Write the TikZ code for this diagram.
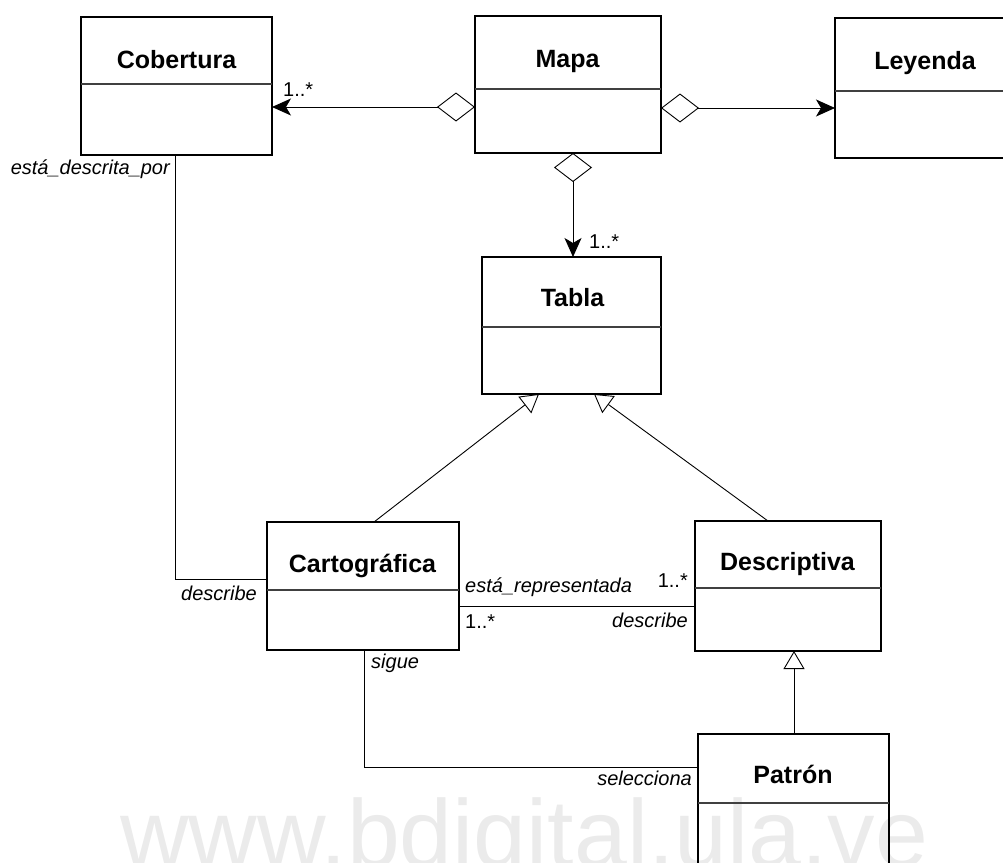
\documentclass[tikz,border=0pt]{standalone}
\usepackage{fontspec}
\setmainfont{Liberation Sans}
\usetikzlibrary{arrows.meta}
\begin{document}
\begin{tikzpicture}[x=1pt,y=-1pt,
  classbox/.style={draw, line width=1.8pt, inner sep=0pt, outer sep=0pt},
  sepline/.style={line width=1.4pt, black!75},
  title/.style={font=\fontsize{25}{30}\selectfont\bfseries, anchor=base, inner sep=0pt},
  lbl/.style={font=\fontsize{20}{24}\selectfont\itshape, inner sep=0pt},
  mult/.style={font=\fontsize{20}{24}\selectfont, inner sep=0pt},
  conn/.style={line width=0.9pt},
  agg/.style={conn, {Diamond[open,length=38pt,width=29pt,line width=0.9pt]}-{Stealth[length=19pt,width=17pt,inset=5pt]}},
  aggv/.style={conn, {Diamond[open,length=29pt,width=38pt,line width=0.9pt]}-{Stealth[length=19pt,width=17pt,inset=5pt]}},
  gen/.style={conn, -{Triangle[open,length=18pt,width=21pt,line width=0.9pt]}},
  wm/.style={font=\fontsize{95}{100}\selectfont, text=black!8, inner sep=0pt}
]
\path[use as bounding box] (0,0) rectangle (1003,862);
\clip (0,0) rectangle (1003,862);

% watermark
\node[wm, anchor=base west] (wmark) at (120,866) {www.bdigital.ula.ve};

% class boxes
\node[classbox, minimum width=191pt, minimum height=138pt] (cob) at (176.5,86) {};
\node[classbox, minimum width=186pt, minimum height=137pt] (mapa) at (568,84.5) {};
\node[classbox, minimum width=180pt, minimum height=140pt] (ley) at (925,88) {};
\node[classbox, minimum width=179pt, minimum height=137pt] (tabla) at (571.5,325.5) {};
\node[classbox, minimum width=192pt, minimum height=128pt] (cart) at (363,586) {};
\node[classbox, minimum width=186pt, minimum height=130pt] (desc) at (788,586) {};
\node[classbox, minimum width=191pt, minimum height=200pt] (pat) at (793.5,834) {};

% separators
\draw[sepline] (cob.west |- 0,84) -- (cob.east |- 0,84);
\draw[sepline] (mapa.west |- 0,89) -- (mapa.east |- 0,89);
\draw[sepline] (ley.west |- 0,91) -- (ley.east |- 0,91);
\draw[sepline] (tabla.west |- 0,327) -- (tabla.east |- 0,327);
\draw[sepline] (cart.west |- 0,590) -- (cart.east |- 0,590);
\draw[sepline] (desc.west |- 0,588) -- (desc.east |- 0,588);
\draw[sepline] (pat.west |- 0,803) -- (pat.east |- 0,803);

% titles
\node[title] (cobt) at (176.5,68) {Cobertura};
\node[title] (mapat) at (567.5,67) {Mapa};
\node[title] (leyt) at (925,69) {Leyenda};
\node[title] (tablat) at (572.5,306) {Tabla};
\node[title] (cartt) at (362.5,572) {Cartográfica};
\node[title] (desct) at (787.5,570) {Descriptiva};
\node[title] (patt) at (793,783) {Patrón};

% aggregations
\draw[agg] (mapa.west |- 0,107) -- (cob.east |- 0,107);
\draw[agg] (mapa.east |- 0,108) -- (ley.west |- 0,108);
\draw[aggv] (mapa.south -| 573,0) -- (tabla.north -| 573,0);
\node[mult, anchor=base west] (m1) at (283,96) {1..*};
\node[mult, anchor=base west] (m2) at (589,248) {1..*};

% generalizations
\draw[gen] (cart.north -| 374,0) -- (tabla.south -| 539,0);
\draw[gen] (desc.north -| 768,0) -- (tabla.south -| 594,0);
\draw[gen] (pat.north -| 794,0) -- (desc.south -| 794,0);

% associations
\draw[conn] (cob.south -| 175,0) |- (cart.west |- 0,579);
\node[lbl, anchor=base east] (l1) at (170,174) {está\_descrita\_por};
\node[lbl, anchor=base east] (l2) at (257,600) {describe};

\draw[conn] (cart.east |- 0,606) -- (desc.west |- 0,606);
\node[lbl, anchor=base west] (l3) at (465,592) {está\_representada};
\node[mult, anchor=base west] (m3) at (465,628) {1..*};
\node[mult, anchor=base east] (m4) at (688,587) {1..*};
\node[lbl, anchor=base east] (l4) at (688,627) {describe};

\draw[conn] (cart.south -| 364,0) |- (pat.west |- 0,767);
\node[lbl, anchor=base west] (l5) at (371,668) {sigue};
\node[lbl, anchor=base east] (l6) at (692,785) {selecciona};
\end{tikzpicture}
\end{document}
